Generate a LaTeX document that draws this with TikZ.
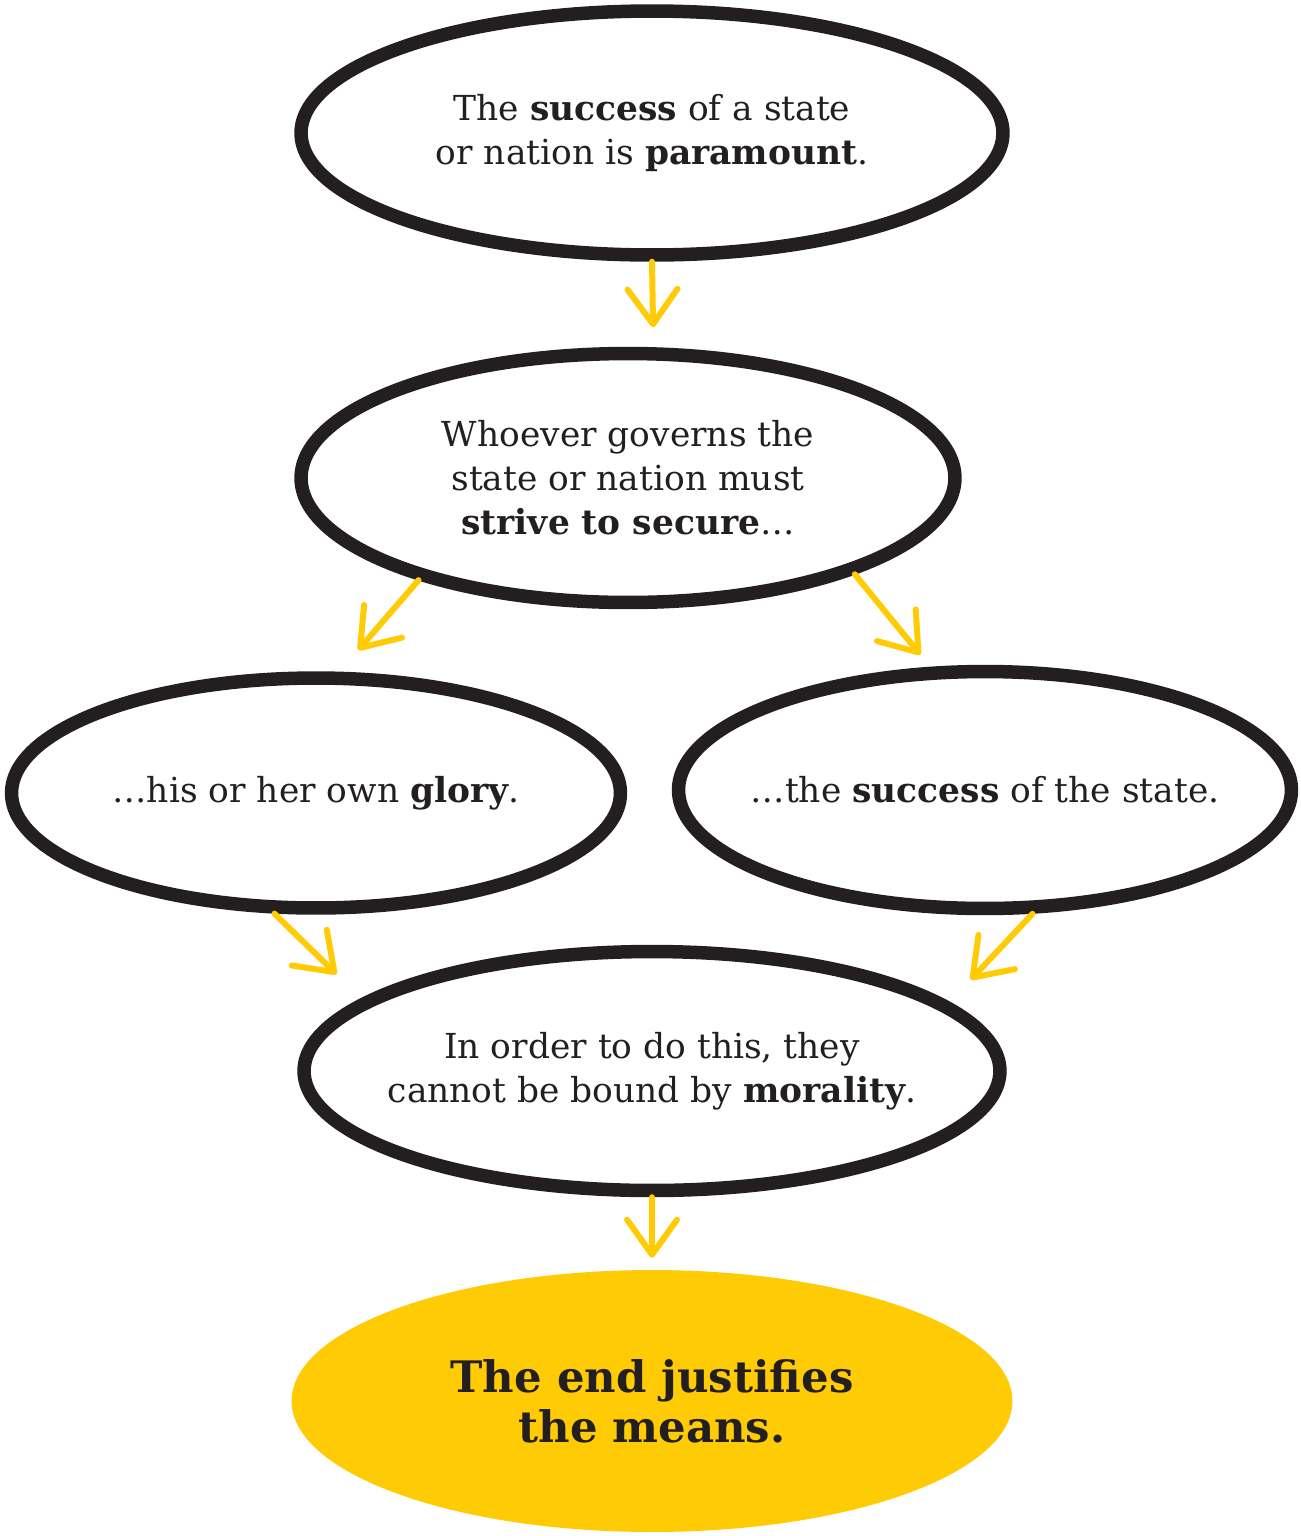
\documentclass[tikz,border=0pt]{standalone}
\usepackage{fontspec}
\setmainfont{DejaVu Serif}
\usetikzlibrary{shapes.geometric,arrows.meta}
\definecolor{ink}{HTML}{231F20}
\definecolor{gold}{HTML}{FFCB05}
\begin{document}
\begin{tikzpicture}[x=0.02cm, y=-0.02cm,
	bubble/.style={draw=ink, ellipse, line width=0.27cm, inner sep=-1cm, align=center, text=ink, font=\fontsize{19.6}{25}\selectfont},
	goalbubble/.style={ellipse, fill=gold, inner sep=-1cm, align=center, text=ink, font=\fontsize{24.7}{28.5}\selectfont\bfseries},
	flow/.style={draw=gold, line width=0.12cm, line cap=round, line join=round, -{Straight Barb[length=0.7cm, width=1cm, line cap=round, line join=round]}}]
				\useasboundingbox (0,0) rectangle (1301,1536);
				\node[bubble, minimum width=14.04cm, minimum height=4.88cm] (paramount)at(652, 133) {The \textbf{success} of a state\\or nation is \textbf{paramount}.};
				\node[bubble, minimum width=13.08cm, minimum height=4.98cm] (secure)at(628, 478) {Whoever governs the\\state or nation must\\\textbf{strive to secure}\ldots};
				\node[bubble, minimum width=12.18cm, minimum height=4.6cm] (glory)at(316, 793) {\ldots{}his or her own \textbf{glory}.};
				\node[bubble, minimum width=12.26cm, minimum height=4.74cm] (state)at(985, 790) {\ldots{}the \textbf{success} of the state.};
				\node[bubble, minimum width=13.92cm, minimum height=4.78cm] (morality)at(652, 1071) {In order to do this, they\\cannot be bound by \textbf{morality}.};
				\node[goalbubble, minimum width=14.42cm, minimum height=5.24cm] (means)at(652, 1401) {The end justifies\\the means.};
				\draw[flow, shorten >=0.4cm] (paramount.south) -- (secure.79);
				\draw[flow, shorten >=0.57cm] (secure.206) -- (glory.79.6);
				\draw[flow, shorten >=0.31cm] (secure.337) -- (state.114.1);
				\draw[flow, shorten >=0.7cm] (glory.251.6) -- (morality.166.5);
				\draw[flow, shorten >=0.62cm] (state.291.9) -- (morality.13.1);
				\draw[flow, shorten >=0.24cm] (morality.south) -- (means.north);
			\end{tikzpicture}
\end{document}
